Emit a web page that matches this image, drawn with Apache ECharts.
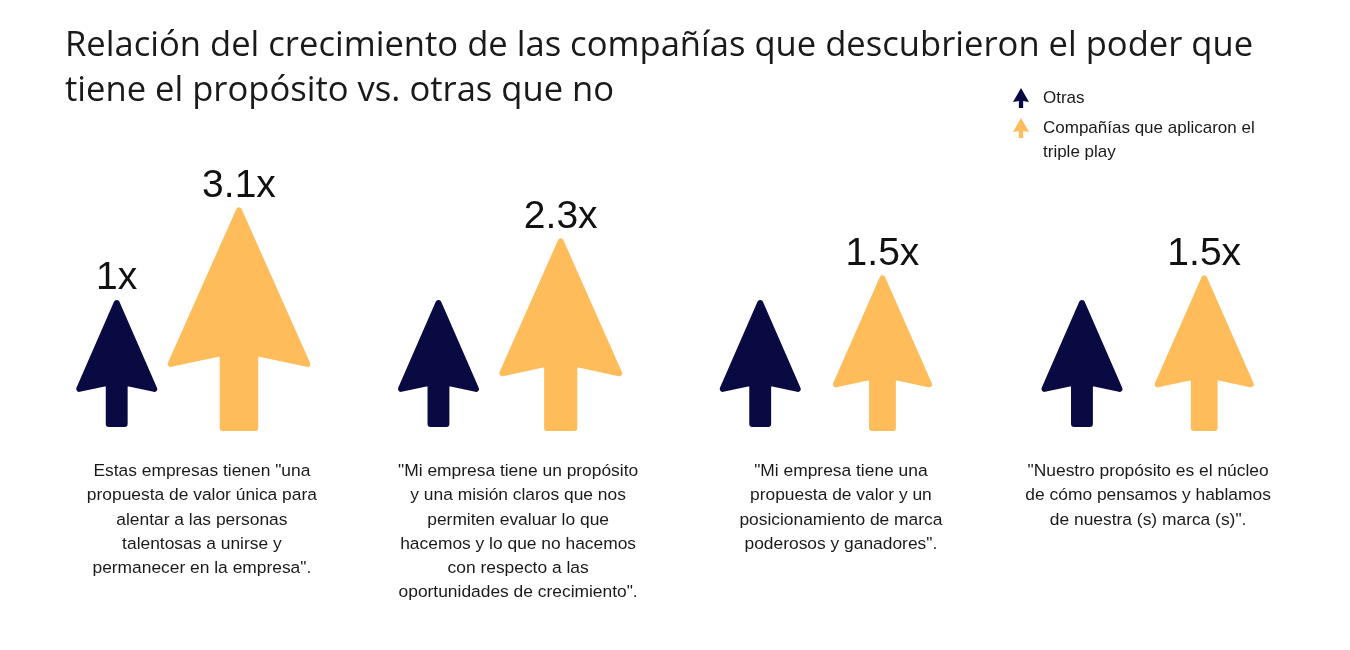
<!DOCTYPE html>
<html>
<head>
<meta charset="utf-8">
<script src="https://cdn.jsdelivr.net/npm/echarts@6/dist/echarts.min.js"></script>
<style>html,body{margin:0;padding:0;background:#fff;}#main{width:1350px;height:650px;}</style>
</head>
<body>
<div id="main"></div>
<script>
// ---- data ----
const titleText = 'Relación del crecimiento de las compañías que descubrieron el poder que\ntiene el propósito vs. otras que no';
const categories = [
  'Estas empresas tienen "una\npropuesta de valor única para\nalentar a las personas\ntalentosas a unirse y\npermanecer en la empresa".',
  '"Mi empresa tiene un propósito\ny una misión claros que nos\npermiten evaluar lo que\nhacemos y lo que no hacemos\ncon respecto a las\noportunidades de crecimiento".',
  '"Mi empresa tiene una\npropuesta de valor y un\nposicionamiento de marca\npoderosos y ganadores".',
  '"Nuestro propósito es el núcleo\nde cómo pensamos y hablamos\nde nuestra (s) marca (s)".'
];
const seriesNames = ['Otras', 'Compañías que aplicaron el\ntriple play'];
const otras = [1, 1, 1, 1];
const triple = [3.1, 2.3, 1.5, 1.5];
const otrasLabelShown = [true, false, false, false];
const tripleLabelShown = [true, true, true, true];

// ---- styles ----
const NAVY = '#0a0a42';
const YELLOW = '#febc5b';
const arrowBody = 'M50,0 L100,70 L63.5,65 L63.5,100 L36.5,100 L36.5,65 L0,70 Z';
// legend icons: invisible move points set where the arrow sits inside the icon box
const legendIcons = [
  'path://M50,-70 M50,170 ' + arrowBody,
  'path://M50,-10 M50,230 ' + arrowBody
];
const labelPad = [50, 39, 41, 12];

function makeRender(offsetFrac, bottomShift, labelFlags) {
  return function (params, api) {
    const idx = api.value(0);
    const v = api.value(1);
    const base = api.coord([idx, 0]);
    const band = api.size([1, 0])[0];
    const h = api.size([0, Math.sqrt(v)])[1];
    const w = h * 81 / 127;
    const cx = base[0] + band * offsetFrac;
    const bottom = base[1] + bottomShift;
    const top = bottom - h;
    const r = 3;
    const L = cx - w / 2, R = cx + w / 2;
    const sl = L + 0.365 * w + r, sr = L + 0.635 * w - r;
    const notchY = top + 0.65 * h, wingY = top + 0.70 * h;
    const color = api.visual('color');
    const pts = [
      [cx, top + r],
      [R - r, wingY],
      [sr, notchY],
      [sr, bottom - r],
      [sl, bottom - r],
      [sl, notchY],
      [L + r, wingY]
    ];
    const children = [{
      type: 'polygon',
      shape: { points: pts },
      style: { fill: color, stroke: color, lineWidth: 2 * r, lineJoin: 'round' }
    }];
    if (labelFlags[params.dataIndex]) {
      children.push({
        type: 'text',
        x: cx,
        y: top - 2,
        style: {
          text: v + 'x',
          fontSize: 39,
          fontFamily: 'Liberation Sans',
          fill: '#111111',
          align: 'center',
          verticalAlign: 'bottom'
        }
      });
    }
    return { type: 'group', children: children };
  };
}

const chart = echarts.init(document.getElementById('main'));
chart.setOption({
  backgroundColor: '#ffffff',
  animation: false,
  title: {
    text: titleText,
    left: 60,
    top: 19,
    textStyle: { fontFamily: 'Open Sans', fontSize: 34.6, fontWeight: 'normal', color: '#1a1a1a', lineHeight: 45 }
  },
  legend: {
    orient: 'vertical',
    left: 1008,
    top: 69,
    itemWidth: 16,
    itemHeight: 48,
    itemGap: -6,
    symbolKeepAspect: false,
    textStyle: { fontFamily: 'Liberation Sans', fontSize: 17, color: '#1a1a1a', lineHeight: 24, padding: [0, 0, 0, 9] },
    data: [
      { name: seriesNames[0], icon: legendIcons[0] },
      { name: seriesNames[1], icon: legendIcons[1] }
    ]
  },
  grid: { left: 16, right: 47, top: 173, bottom: 223 },
  xAxis: {
    type: 'category',
    data: categories.map((c, i) => ({ value: c, textStyle: { padding: [0, 0, 0, labelPad[i]] } })),
    axisLine: { show: false },
    axisTick: { show: false },
    splitLine: { show: false },
    axisLabel: {
      interval: 0,
      margin: 32,
      fontFamily: 'Liberation Sans',
      fontSize: 17.4,
      lineHeight: 24.3,
      color: '#1a1a1a'
    }
  },
  yAxis: { type: 'value', min: 0, max: 2, show: false },
  series: [
    {
      name: seriesNames[0],
      type: 'custom',
      itemStyle: { color: NAVY },
      renderItem: makeRender(-0.187, 0, otrasLabelShown),
      encode: { x: 0, y: 1 },
      data: otras.map((v, i) => [i, v])
    },
    {
      name: seriesNames[1],
      type: 'custom',
      itemStyle: { color: YELLOW },
      renderItem: makeRender(0.193, 4, tripleLabelShown),
      encode: { x: 0, y: 1 },
      data: triple.map((v, i) => [i, v])
    }
  ]
});
</script>
</body>
</html>
